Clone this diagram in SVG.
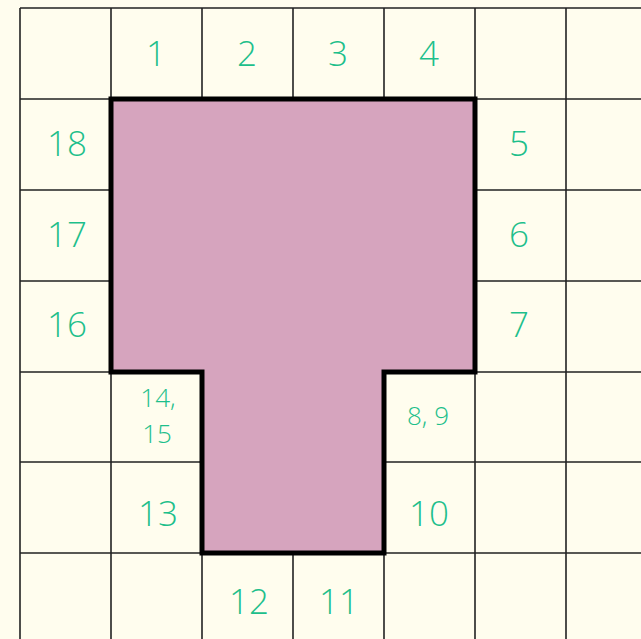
<svg xmlns="http://www.w3.org/2000/svg" width="641" height="639" viewBox="0 0 641 639">
<style>
.g{stroke:#222;stroke-width:1.6;fill:none}
.t{font-family:"Open Sans","Liberation Sans",sans-serif;fill:#1dbf8b;text-anchor:middle;font-size:35px;font-weight:300}
.s{font-size:26px}
</style>
<rect width="641" height="639" fill="#fffdee"/>
<g id="grid">
<path class="g" d="M20,8V639M111,8V99M111,372V639M202,8V99M202,553V639M293,8V99M293,553V639M384,8V99M384,553V639M475,8V99M475,372V639M566,8V639"/>
<path class="g" d="M20,8H641M20,99H111M475,99H641M20,190H111M475,190H641M20,281H111M475,281H641M20,372H111M475,372H641M20,462H202M384,462H641M20,553H202M384,553H641"/>
</g>
<g id="shape">
<polygon points="111,99 475,99 475,372 384,372 384,553 202,553 202,372 111,372" fill="#d6a4be" stroke="#000" stroke-width="5" stroke-linejoin="miter"/>
</g>
<g id="labels">
<text class="t" x="156" y="66">1</text>
<text class="t" x="247" y="66">2</text>
<text class="t" x="338" y="66">3</text>
<text class="t" x="429" y="66">4</text>
<text class="t" x="519" y="156">5</text>
<text class="t" x="519" y="247">6</text>
<text class="t" x="519" y="337">7</text>
<text class="t s" x="428" y="425">8, 9</text>
<text class="t" x="429" y="526">10</text>
<text class="t" x="339" y="614">11</text>
<text class="t" x="249" y="614">12</text>
<text class="t" x="158" y="526">13</text>
<text class="t s" x="158" y="407">14,</text>
<text class="t s" x="157" y="443">15</text>
<text class="t" x="67" y="337">16</text>
<text class="t" x="67" y="247">17</text>
<text class="t" x="67" y="156">18</text>
</g>
</svg>
